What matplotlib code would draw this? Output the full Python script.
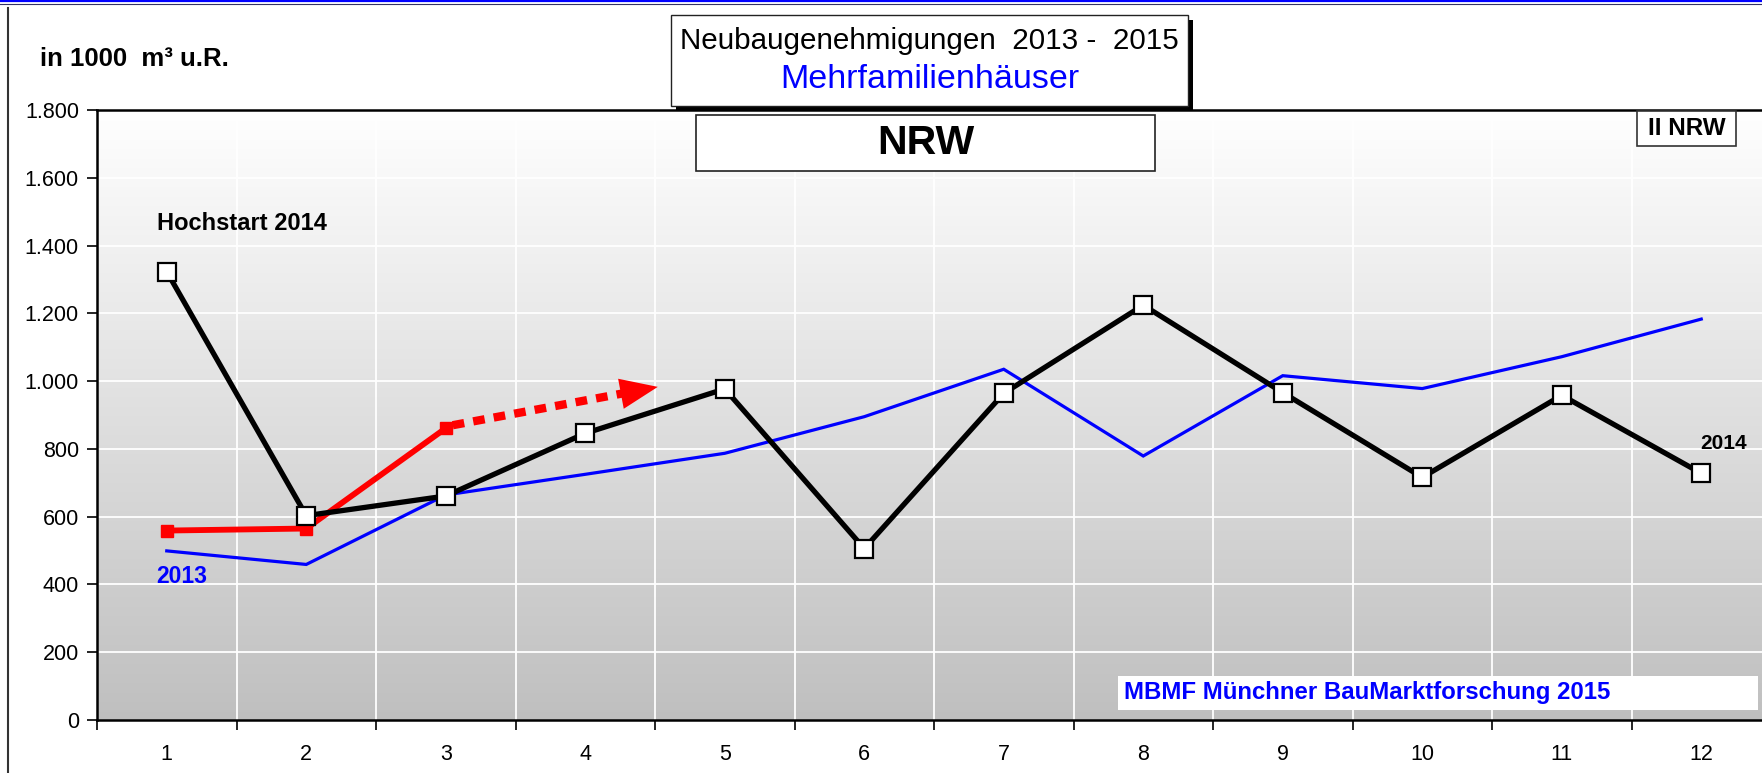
import matplotlib
matplotlib.use("Agg")
import matplotlib.pyplot as plt
import numpy as np
from matplotlib.patches import Rectangle
from matplotlib.lines import Line2D
from matplotlib.ticker import FixedLocator, NullFormatter, FuncFormatter

plt.rcParams['font.family'] = ['Liberation Sans', 'DejaVu Sans']

# ---------------- data ----------------
months = list(range(1, 13))
month_labels = [str(m) for m in months]
v2013 = [499, 459, 664, 725, 787, 895, 1035, 779, 1016, 978, 1072, 1183]
v2014 = [1323, 603, 661, 846, 977, 506, 964, 1224, 966, 716, 958, 728]
v2015 = [559, 565, 861]
trend_x = [3.0, 4.52]
trend_y = [866, 983]
yticks = [0, 200, 400, 600, 800, 1000, 1200, 1400, 1600, 1800]

W, H = 1762, 773
fig = plt.figure(figsize=(W / 100, H / 100), dpi=100)
fig.patch.set_facecolor('white')

def fx(px):
    return px / W

def fy(py):
    return 1 - py / H

# axes geometry (pixels)
ax_l, ax_r, ax_t, ax_b = 97, 1762, 110, 720
ax = fig.add_axes([fx(ax_l), fy(ax_b), fx(ax_r) - fx(ax_l), fy(ax_t) - fy(ax_b)])
cat_w = 139.5
ax.set_xlim(0.5, 0.5 + (ax_r - ax_l) / cat_w)
ax.set_ylim(0, 1800)

# gradient background
grad = np.linspace(0, 1, 256).reshape(-1, 1)
top = np.array([1.0, 1.0, 1.0])
bot = np.array([0.75, 0.75, 0.75])
img = top * (1 - grad)[..., None] + bot * grad[..., None]
ax.imshow(img, extent=[0, 1, 0, 1], transform=ax.transAxes, aspect='auto',
          zorder=0, origin='upper')
ax.set_facecolor('none')

# grid
for yv in yticks[1:-1]:
    ax.axhline(yv, color='white', lw=1.3, zorder=1)
for xv in np.arange(1.5, 12.6, 1.0):
    ax.axvline(xv, color='white', lw=1.3, zorder=1)

# ticks
ax.xaxis.set_major_locator(FixedLocator(np.arange(0.5, 12.6, 1.0)))
ax.xaxis.set_major_formatter(NullFormatter())
ax.xaxis.set_minor_locator(FixedLocator(months))
ax.xaxis.set_minor_formatter(FuncFormatter(lambda v, p: month_labels[int(round(v)) - 1]))
ax.tick_params(axis='x', which='major', length=7, width=1.2, direction='out', color='black')
ax.tick_params(axis='x', which='minor', length=0, pad=17, labelsize=15.5)
ax.set_yticks(yticks)
ax.set_yticklabels([f"{v:,}".replace(',', '.') for v in yticks])
ax.tick_params(axis='y', length=7, width=1.2, direction='out', pad=6, labelsize=15.5)

for s in ['left', 'bottom', 'top']:
    ax.spines[s].set_color('black')
    ax.spines[s].set_linewidth(1.8)
ax.spines['right'].set_visible(False)

# series
ax.plot(months, v2013, color='#0000ff', lw=2.3, zorder=3, solid_joinstyle='miter')
ax.plot(months[:len(v2015)], v2015, color='#ff0000', lw=4.2, marker='s', markersize=9,
        markerfacecolor='#ff0000', markeredgecolor='#ff0000', zorder=4)
ax.plot(months, v2014, color='black', lw=3.8, marker='s', markersize=12.5,
        markerfacecolor='white', markeredgecolor='black', markeredgewidth=1.6, zorder=5)

# dotted trend arrow
slope = (trend_y[1] - trend_y[0]) / (trend_x[1] - trend_x[0])
frac = 0.83
bx = trend_x[0] + frac * (trend_x[1] - trend_x[0])
by = trend_y[0] + frac * (trend_y[1] - trend_y[0])
ax.plot([trend_x[0] + 0.05, bx], [trend_y[0] + 0.05 * slope, by],
        color='#ff0000', lw=6, linestyle=(0, (1.4, 1.1)), dash_capstyle='butt', zorder=4)
ax.annotate('', xy=(trend_x[1], trend_y[1]), xytext=(bx - 0.02, by - 0.02 * slope),
            arrowprops=dict(arrowstyle='-|>,head_length=1.35,head_width=0.55', mutation_scale=20,
                            fc='#ff0000', ec='none', lw=0, shrinkA=0, shrinkB=0), zorder=4)

# annotations in data coords
ax.text(1.54, 1466, 'Hochstart 2014', fontsize=17, fontweight='bold', ha='center', va='center', zorder=6)
ax.text(1.11, 422, '2013', fontsize=16.5, fontweight='bold', color='#0000ff', ha='center', va='center', zorder=6)
ax.text(12.16, 815, '2014', fontsize=15, fontweight='bold', ha='center', va='center', zorder=6)

# MBMF box
ax.add_artist(Rectangle((fx(1118), fy(710)), fx(1758) - fx(1118), fy(676) - fy(710),
                        transform=fig.transFigure, facecolor='white', edgecolor='none', zorder=6))
fig.text(fx(1124), fy(693), 'MBMF Münchner BauMarktforschung 2015', fontsize=17.3, fontweight='bold',
         color='#0000ff', ha='left', va='center', zorder=7)

# II NRW box
fig.add_artist(Rectangle((fx(1637), fy(146)), fx(1736) - fx(1637), fy(111) - fy(146),
                         transform=fig.transFigure, facecolor='white', edgecolor='#333333', lw=1.2, zorder=6))
fig.text(fx(1686.5), fy(128.5), 'II NRW', fontsize=17.5, fontweight='bold', ha='center', va='center', zorder=7)

# NRW box
fig.add_artist(Rectangle((fx(696), fy(171)), fx(1155) - fx(696), fy(115) - fy(171),
                         transform=fig.transFigure, facecolor='white', edgecolor='#222222', lw=1.2, zorder=6))
fig.text(fx(925.5), fy(143), 'NRW', fontsize=29.5, fontweight='bold', ha='center', va='center', zorder=7)

# title box with shadow
fig.add_artist(Rectangle((fx(676), fy(111)), fx(1193) - fx(676), fy(20) - fy(111),
                         transform=fig.transFigure, facecolor='black', edgecolor='none', zorder=6))
fig.add_artist(Rectangle((fx(671), fy(106)), fx(1188) - fx(671), fy(15) - fy(106),
                         transform=fig.transFigure, facecolor='white', edgecolor='#222222', lw=1.0, zorder=7))
fig.text(fx(929.5), fy(41), 'Neubaugenehmigungen  2013 -  2015', fontsize=21.3, ha='center', va='center', zorder=8)
fig.text(fx(929.5), fy(79), 'Mehrfamilienhäuser', fontsize=24.5, color='#0000ff', ha='center', va='center', zorder=8)

# y-unit label
fig.text(fx(40), fy(59), 'in 1000  m³ u.R.', fontsize=18.5, fontweight='bold', ha='left', va='center')

# frame lines
fig.add_artist(Line2D([0, 1], [fy(1), fy(1)], transform=fig.transFigure, color='#0000ff', lw=1.6))
fig.add_artist(Line2D([0, 1], [fy(3.5), fy(3.5)], transform=fig.transFigure, color='#333366', lw=0.8))
fig.add_artist(Line2D([fx(8), fx(8)], [fy(8), 0], transform=fig.transFigure, color='#333333', lw=1.5))

fig.savefig('out.png', dpi=100)
